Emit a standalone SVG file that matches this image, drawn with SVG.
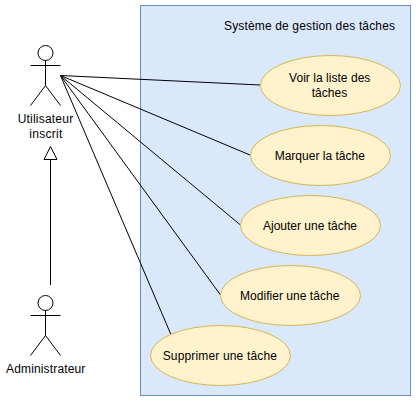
<svg xmlns="http://www.w3.org/2000/svg" width="416" height="401" viewBox="0 0 416 401">
<style>
text{font-family:"Liberation Sans",Arial,sans-serif;font-size:12px;fill:#000;text-anchor:middle}
.uc{fill:#fff2cc;stroke:#d6b656;stroke-width:1}
.a{fill:none;stroke:#000;stroke-width:1}
.l{fill:none;stroke:#000;stroke-width:1}
</style>
<rect x="0" y="0" width="416" height="401" fill="#fff"/>
<g id="system">
<rect x="140.500" y="5.500" width="270" height="390" fill="#dae8fc" stroke="#6c8ebf"/>
<text x="309.500" y="30" textLength="171">Système de gestion des tâches</text>
</g>
<g id="connectors">
<path class="l" d="M60.500 75.500L260 85"/>
<path class="l" d="M60.500 75.500L250 155"/>
<path class="l" d="M60.500 75.500L240.500 225"/>
<path class="l" d="M60.500 75.500L220.500 295"/>
<path class="l" d="M60.500 75.500L170.700 334"/>
<path class="l" d="M50.500 285V159"/>
<path d="M50.500 146.500L57 159.500H44Z" fill="#fff" stroke="#000"/>
</g>
<g id="actor-utilisateur">
<circle class="a" cx="45.500" cy="53" r="7.500"/>
<path class="a" d="M45.500 60.500V85.500M30.500 65.500H60.500M45.500 85.500L30.500 105.500M45.500 85.500L60.500 105.500"/>
<text x="45.400" y="123" textLength="55.500">Utilisateur</text>
<text x="45.800" y="138" textLength="33">inscrit</text>
</g>
<g id="actor-admin">
<circle class="a" cx="45.500" cy="303" r="7.500"/>
<path class="a" d="M45.500 310.500V335.500M30.500 315.500H60.500M45.500 335.500L30.500 355.500M45.500 335.500L60.500 355.500"/>
<text x="45.700" y="373" textLength="79.300">Administrateur</text>
</g>
<g id="uc-voir">
<ellipse class="uc" cx="330.500" cy="85.500" rx="70" ry="30"/>
<text x="329.700" y="82" textLength="81.300">Voir la liste des</text>
<text x="329.500" y="97" textLength="35.600">tâches</text>
</g>
<g id="uc-marquer">
<ellipse class="uc" cx="320.500" cy="155.500" rx="70" ry="30"/>
<text x="319.800" y="160" textLength="90.300">Marquer la tâche</text>
</g>
<g id="uc-ajouter">
<ellipse class="uc" cx="310.500" cy="225.500" rx="70" ry="30"/>
<text x="310" y="230" textLength="94">Ajouter une tâche</text>
</g>
<g id="uc-modifier">
<ellipse class="uc" cx="290.500" cy="295.500" rx="70" ry="30"/>
<text x="289.700" y="300" textLength="99.300">Modifier une tâche</text>
</g>
<g id="uc-supprimer">
<ellipse class="uc" cx="220.500" cy="355.500" rx="70" ry="30"/>
<text x="219.800" y="360" textLength="114.300">Supprimer une tâche</text>
</g>
</svg>
